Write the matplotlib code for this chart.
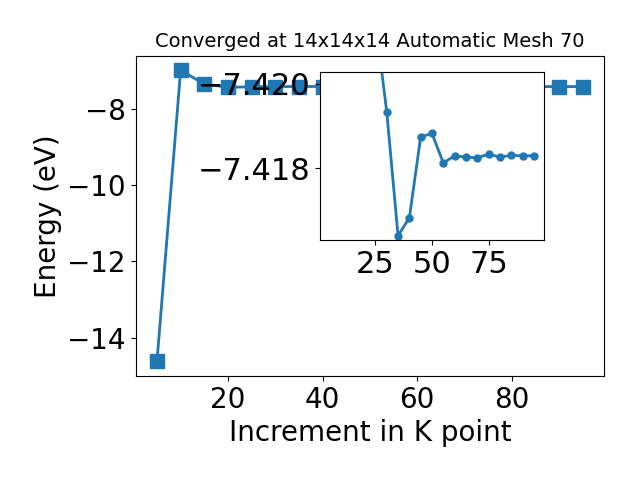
import matplotlib
matplotlib.use("Agg")
import matplotlib.pyplot as plt

kpoints = [5, 10, 15, 20, 25, 30, 35, 40, 45, 50, 55, 60, 65, 70, 75, 80, 85, 90, 95]
energy = [-14.62, -6.99, -7.35, -7.44, -7.4215, -7.41933, -7.41639, -7.41682,
          -7.41874, -7.41882, -7.41812, -7.41829, -7.41826, -7.41824, -7.41833,
          -7.41826, -7.41830, -7.41829, -7.41829]

main_yticks = [-14, -12, -10, -8]
main_xticks = [20, 40, 60, 80]
inset_xticks = [25, 50, 75]
inset_yticks = [-7.420, -7.418]
inset_ylim = (-7.41629, -7.42028)
inset_start = 4  # inset shows points from x = 25 onwards

title = "Converged at 14x14x14 Automatic Mesh 70"
xlabel = "Increment in K point"
ylabel = "Energy (eV)"

fig = plt.figure(figsize=(6.4, 4.8), dpi=100)
ax = fig.add_axes([0.212, 0.2167, 0.732, 0.6673])
ax.plot(kpoints, energy, marker="s", markersize=10, linewidth=2, color="#1f77b4")
ax.set_xticks(main_xticks)
ax.set_yticks(main_yticks)
ax.tick_params(labelsize=20)
ax.set_xlabel(xlabel, fontsize=20)
ax.set_ylabel(ylabel, fontsize=20)
ax.set_title(title, fontsize=14)

ins = fig.add_axes([0.5, 0.5, 0.35, 0.35])
ins.plot(kpoints[inset_start:], energy[inset_start:], marker="o", markersize=5,
         linewidth=2, color="#1f77b4")
ins.set_xlim(ax.get_xlim())
ins.set_ylim(*inset_ylim)
ins.set_xticks(inset_xticks)
ins.set_yticks(inset_yticks)
ins.ticklabel_format(axis="y", useOffset=False)
ins.tick_params(labelsize=22)

fig.savefig("out.png", dpi=100)
